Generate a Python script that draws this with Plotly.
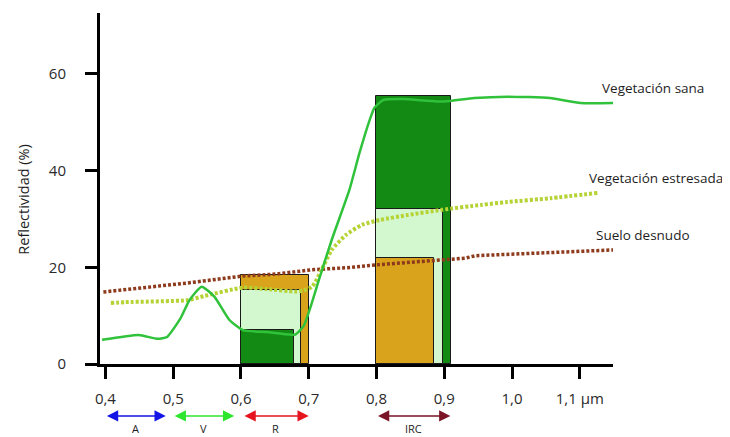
import plotly.graph_objects as go

# ---------------- data ----------------
healthy_wl = [0.395, 0.449, 0.477, 0.491, 0.511, 0.524, 0.542, 0.561, 0.583, 0.603,
              0.638, 0.680, 0.693, 0.702, 0.715, 0.734, 0.760, 0.775, 0.790, 0.797,
              0.810, 0.840, 0.870, 0.900, 0.944, 0.993, 1.056, 1.101, 1.150]
healthy_r = [5.0, 6.0, 5.2, 5.6, 9.5, 13.2, 16.0, 13.9, 9.1, 7.0,
             6.6, 6.1, 8.0, 11.5, 17.4, 25.7, 36.0, 43.7, 50.5, 53.0,
             54.6, 54.8, 54.5, 54.3, 55.0, 55.3, 55.0, 54.0, 54.0]

stressed_wl = [0.408, 0.430, 0.520, 0.547, 0.603, 0.638, 0.680, 0.692, 0.705, 0.719,
               0.734, 0.755, 0.779, 0.805, 0.846, 0.897, 0.954, 0.993, 1.057, 1.127]
stressed_r = [12.6, 12.8, 13.2, 14.1, 15.8, 15.5, 15.0, 15.2, 16.0, 19.5,
              23.6, 26.7, 28.8, 29.8, 30.8, 31.9, 32.9, 33.5, 34.3, 35.4]

soil_wl = [0.397, 0.524, 0.603, 0.652, 0.705, 0.755, 0.800, 0.850, 0.880, 0.931,
           0.946, 1.043, 1.151]
soil_r = [14.9, 16.8, 18.2, 18.6, 19.5, 19.9, 20.5, 21.0, 21.3, 21.9,
          22.4, 23.0, 23.6]

# band-average reflectance boxes (R and IRC bands)
box_left = [0.600, 0.800]
soil_box_right = [0.701, 0.885]
soil_box_h = [18.4, 21.9]
stressed_box_right = [0.689, 0.898]
stressed_box_h = [15.3, 32.1]
healthy_box_right = [0.678, 0.910]
healthy_box_h = [7.0, 55.4]

# spectral bands
band_names = ["A", "V", "R", "IRC"]
band_start = [0.400, 0.500, 0.603, 0.800]
band_end = [0.489, 0.590, 0.700, 0.909]
band_colors = ["#1414E6", "#2EE62E", "#E6141E", "#7A1426"]

x_tickvals = [0.4, 0.5, 0.6, 0.7, 0.8, 0.9, 1.0, 1.1]
x_ticktext = ["0,4", "0,5", "0,6", "0,7", "0,8", "0,9", "1,0", "1,1 µm"]
y_tickvals = [0, 20, 40, 60]

series_labels = ["Vegetación sana", "Vegetación estresada", "Suelo desnudo"]

# ---------------- styles ----------------
C_HEALTHY_BOX = "#138A14"
C_STRESSED_BOX = "#D3F7CF"
C_SOIL_BOX = "#D9A31C"
C_HEALTHY_LINE = "#2FC23A"
C_STRESSED_LINE = "#B5D334"
C_SOIL_LINE = "#8E3A1C"
FONT = "Open Sans"
TXT = "#1e1e1e"

fig = go.Figure()

# boxes: for each band, draw the tallest first so smaller ones sit on top
for i in range(len(box_left)):
    boxes = [
        (soil_box_right[i], soil_box_h[i], C_SOIL_BOX),
        (stressed_box_right[i], stressed_box_h[i], C_STRESSED_BOX),
        (healthy_box_right[i], healthy_box_h[i], C_HEALTHY_BOX),
    ]
    boxes.sort(key=lambda b: -b[1])
    for right, h, col in boxes:
        fig.add_trace(go.Bar(
            x=[(box_left[i] + right) / 2], y=[h], base=0,
            width=[right - box_left[i]],
            marker=dict(color=col, line=dict(color="#1a1a1a", width=1)),
            showlegend=False, hoverinfo="skip"))

fig.add_trace(go.Scatter(
    x=soil_wl, y=soil_r, mode="lines",
    line=dict(color=C_SOIL_LINE, width=3.5, dash="3px,2px"),
    showlegend=False))
fig.add_trace(go.Scatter(
    x=stressed_wl, y=stressed_r, mode="lines",
    line=dict(color=C_STRESSED_LINE, width=4, dash="3px,2px", shape="spline", smoothing=0.6),
    showlegend=False))
fig.add_trace(go.Scatter(
    x=healthy_wl, y=healthy_r, mode="lines",
    line=dict(color=C_HEALTHY_LINE, width=2.5, shape="spline", smoothing=0.5),
    showlegend=False))

annotations = []
# series labels at right
label_pos = [(0.975, 57.1), (0.949, 38.5), (0.963, 26.7)]
for txt, (px, py) in zip(series_labels, label_pos):
    annotations.append(dict(
        x=px, y=py, xref="paper", yref="y", text=txt, showarrow=False,
        xanchor="left", yanchor="middle",
        font=dict(family=FONT, size=13.5, color=TXT)))

# band arrows and labels (below the axis, in paper coordinates)
for name, s, e, col in zip(band_names, band_start, band_end, band_colors):
    annotations.append(dict(
        x=e, y=-0.148, ax=s, ay=0, xref="x", yref="paper", axref="x", ayref="pixel",
        text="", showarrow=True, arrowside="end+start",
        arrowhead=2, startarrowhead=2, arrowsize=1.5, startarrowsize=1.5,
        arrowwidth=1.5, arrowcolor=col, standoff=0, startstandoff=0))
    annotations.append(dict(
        x=(s + e) / 2, y=-0.1567, xref="x", yref="paper", text=name, showarrow=False,
        xanchor="center", yanchor="top",
        font=dict(family=FONT, size=11, color=TXT)))

# y-axis title
annotations.append(dict(
    x=-0.148, y=34, xref="paper", yref="y", text="Reflectividad (%)",
    showarrow=False, textangle=-90, xanchor="center", yanchor="middle",
    font=dict(family=FONT, size=14.5, color=TXT)))

# page body has an 8px margin: figure is sized/offset to compensate
fig.update_layout(
    width=722, height=429,
    margin=dict(l=92, r=117, t=5, b=73, autoexpand=False),
    paper_bgcolor="white", plot_bgcolor="white",
    barmode="overlay", bargap=0,
    showlegend=False,
    annotations=annotations,
    xaxis=dict(
        range=[0.392, 1.149], showgrid=False, zeroline=False,
        showline=True, linecolor="black", linewidth=3,
        ticks="outside", ticklen=12, tickwidth=3, tickcolor="black",
        tickvals=x_tickvals, ticktext=x_ticktext, ticklabelstandoff=7,
        tickfont=dict(family=FONT, size=15, color="#2a2a2a")),
    yaxis=dict(
        range=[0, 72.6], showgrid=False, zeroline=False,
        showline=True, linecolor="black", linewidth=3,
        ticks="outside", ticklen=12, tickwidth=3, tickcolor="black",
        tickvals=y_tickvals, ticklabelstandoff=16,
        tickfont=dict(family=FONT, size=15, color="#2a2a2a")),
)

fig.write_html("out.html")
